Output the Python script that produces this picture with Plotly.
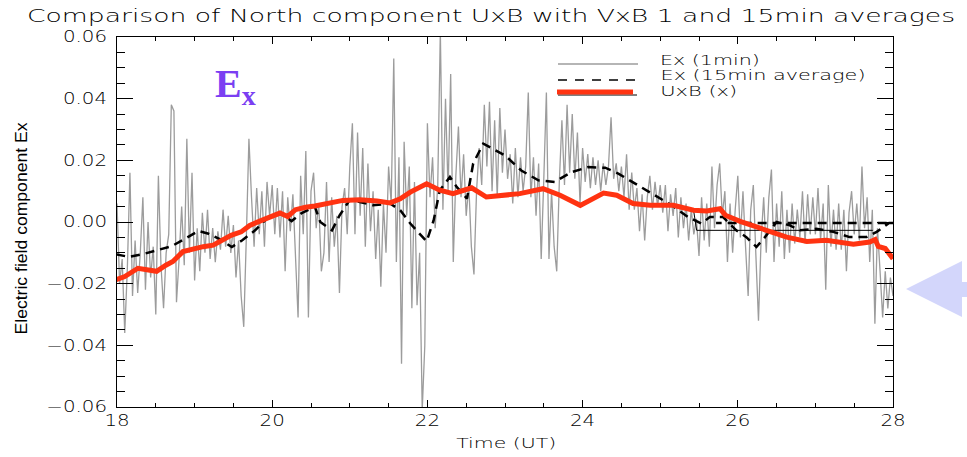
import numpy as np
import plotly.graph_objects as go

# ---- data -------------------------------------------------------------
# 1-minute electric field, sampled every 2 minutes from 18:00 to 28:00 UT
ex_1min_start = 18.0
ex_1min_step_h = 2.0 / 60.0
ex_1min = [
    0.006, -0.020, -0.012, -0.036, -0.015, 0.016, -0.024, -0.006, -0.023, -0.010,
    0.008, -0.022, 0.000, -0.018, -0.008, -0.030, 0.015, -0.014, -0.028, -0.010,
    -0.004, 0.038, 0.036, -0.026, -0.012, 0.005, -0.014, 0.027, -0.010, 0.016,
    -0.019, -0.002, -0.016, 0.003, -0.010, 0.004, -0.012, -0.002, -0.013, -0.003,
    -0.009, 0.004, -0.008, 0.002, -0.010, -0.001, -0.018, -0.006, -0.024, -0.034,
    -0.005, 0.027, 0.008, -0.008, 0.011, -0.004, 0.010, -0.008, 0.013, 0.002,
    0.012, -0.004, 0.011, -0.005, 0.010, -0.016, 0.008, -0.003, 0.009, -0.010,
    -0.031, 0.015, -0.004, 0.023, -0.031, 0.010, 0.016, -0.002, 0.006, -0.016,
    -0.010, 0.013, -0.013, 0.008, -0.008, 0.002, -0.023, 0.005, 0.011, -0.004,
    0.018, 0.032, -0.004, 0.029, 0.002, 0.024, -0.008, 0.019, -0.003, 0.010,
    -0.012, 0.004, -0.021, 0.006, -0.010, 0.018, 0.006, 0.053, -0.013, 0.021,
    -0.046, 0.026, 0.002, 0.018, -0.028, 0.013, -0.027, -0.010, -0.061, -0.040,
    0.032, 0.008, 0.021, -0.002, 0.012, 0.062, 0.004, 0.040, 0.010, 0.048,
    -0.013, 0.015, 0.031, 0.008, 0.022, 0.002, 0.012, -0.008, -0.017, 0.010,
    0.024, 0.012, 0.038, 0.018, 0.039, 0.010, 0.033, 0.008, 0.037, 0.016,
    0.030, 0.014, 0.022, 0.006, 0.024, 0.008, 0.021, 0.010, 0.018, 0.042,
    0.008, 0.021, 0.002, 0.019, -0.012, 0.014, 0.042, -0.012, 0.010, -0.008,
    -0.016, 0.013, 0.033, 0.012, 0.038, 0.016, 0.035, 0.014, 0.029, 0.006,
    0.024, 0.013, 0.022, 0.011, 0.021, 0.012, 0.020, 0.010, 0.019, 0.012,
    0.018, 0.034, 0.014, 0.019, 0.010, 0.018, 0.008, 0.022, 0.004, 0.016,
    0.004, 0.011, -0.003, 0.009, -0.006, 0.008, 0.015, 0.004, 0.013, 0.005,
    0.012, 0.003, 0.012, -0.003, 0.009, 0.002, 0.011, -0.005, 0.008, -0.002,
    0.006, -0.006, 0.004, -0.004, 0.001, -0.011, 0.008, -0.006, 0.006, -0.008,
    0.018, -0.002, 0.012, 0.019, 0.002, 0.010, -0.013, 0.006, -0.010, 0.004,
    0.015, -0.005, 0.010, -0.008, -0.024, 0.004, 0.012, -0.011, -0.032, -0.006,
    0.008, -0.010, 0.008, 0.017, -0.013, 0.006, -0.008, 0.010, -0.012, 0.004,
    -0.010, 0.006, -0.007, 0.004, -0.005, 0.010, -0.007, 0.009, -0.004, 0.008,
    -0.004, 0.011, -0.006, 0.006, -0.022, 0.012, -0.008, 0.004, -0.009, 0.006,
    -0.009, 0.004, -0.016, 0.003, 0.010, -0.004, 0.006, -0.006, 0.018, -0.002,
    0.008, -0.013, 0.004, -0.033, -0.002, -0.016, -0.031, -0.016, -0.028, -0.018,
    -0.024,
]

# 15-minute running average of Ex (the trace returns along 0 at the end)
ex_15min_time = [
    17.99, 18.15, 18.32, 18.49, 18.70, 18.88, 19.05, 19.18, 19.31, 19.48,
    19.61, 19.78, 19.95, 20.12, 20.25, 20.38, 20.55, 20.62, 20.77, 20.87,
    21.00, 21.13, 21.30, 21.52, 21.65, 21.78, 21.99, 22.08, 22.16, 22.29,
    22.38, 22.51, 22.59, 22.72, 22.89, 23.00, 23.21, 23.43, 23.64, 23.86,
    24.07, 24.29, 24.46, 24.72, 24.93, 25.15, 25.36, 25.53, 25.64, 25.81,
    25.98, 26.11, 26.24, 26.35, 26.50, 26.67, 26.80, 27.01, 27.23, 27.44,
    27.66, 27.79, 27.95, 28.00, 25.72,
]
ex_15min = [
    -0.0105, -0.0113, -0.0105, -0.0094, -0.0079, -0.0054, -0.0029, -0.0038, -0.0054, -0.0081,
    -0.0060, -0.0027, 0.0016, 0.0027, 0.0003, 0.0029, 0.0049, 0.0000, -0.0027, 0.0022,
    0.0072, 0.0065, 0.0054, 0.0060, 0.0038, -0.0005, -0.0063, 0.0005, 0.0103, 0.0146,
    0.0113, 0.0076, 0.0190, 0.0254, 0.0232, 0.0216, 0.0167, 0.0135, 0.0130, 0.0162,
    0.0178, 0.0176, 0.0157, 0.0119, 0.0086, 0.0054, 0.0016, -0.0005, 0.0016, 0.0016,
    -0.0027, -0.0049, -0.0081, -0.0049, 0.0000, -0.0011, -0.0027, -0.0022, -0.0032, -0.0049,
    -0.0049, -0.0032, -0.0003, -0.0003, -0.0003,
]

# UxB (x) from the velocity/magnetic field product
uxb_time = [
    17.99, 18.10, 18.27, 18.38, 18.51, 18.63, 18.72, 18.85, 18.98, 19.11,
    19.24, 19.37, 19.47, 19.60, 19.71, 19.84, 19.97, 20.10, 20.20, 20.30,
    20.43, 20.55, 20.91, 21.13, 21.35, 21.52, 21.65, 21.78, 21.99, 22.16,
    22.33, 22.57, 22.76, 22.94, 23.19, 23.49, 23.71, 23.97, 24.10, 24.27,
    24.44, 24.65, 24.87, 25.17, 25.43, 25.60, 25.77, 25.84, 26.03, 26.37,
    26.63, 26.89, 27.14, 27.49, 27.70, 27.77, 27.81, 27.90, 28.00,
]
uxb_x = [
    -0.0187, -0.0177, -0.0150, -0.0155, -0.0160, -0.0140, -0.0128, -0.0096, -0.0086, -0.0080,
    -0.0075, -0.0059, -0.0043, -0.0032, -0.0011, 0.0003, 0.0016, 0.0029, 0.0018, 0.0040,
    0.0048, 0.0052, 0.0070, 0.0072, 0.0068, 0.0062, 0.0075, 0.0097, 0.0124, 0.0103,
    0.0092, 0.0111, 0.0081, 0.0084, 0.0092, 0.0108, 0.0087, 0.0054, 0.0071, 0.0094,
    0.0087, 0.0060, 0.0054, 0.0054, 0.0038, 0.0036, 0.0043, 0.0022, 0.0002, -0.0027,
    -0.0049, -0.0063, -0.0059, -0.0072, -0.0065, -0.0057, -0.0079, -0.0086, -0.0119,
]

# thin black UxB trace drawn beneath the thick one (straight across the data gap)
uxb_line_time = uxb_time[:45] + [25.47, 27.74]
uxb_line_x = uxb_x[:45] + [-0.0027, -0.0027]

x_tick_vals = [18, 20, 22, 24, 26, 28]

# ---- figure -----------------------------------------------------------
ex_1min_time = ex_1min_start + ex_1min_step_h * np.arange(len(ex_1min))

HFONT = "DejaVu Sans"
HWEIGHT = 200
RED = "#ff3311"

fig = go.Figure()
fig.add_trace(go.Scatter(x=ex_1min_time, y=ex_1min, mode="lines",
                         line=dict(color="#9c9c9c", width=1.3), name="Ex (1min)"))
fig.add_trace(go.Scatter(x=uxb_line_time, y=uxb_line_x, mode="lines",
                         line=dict(color="black", width=1), name="UxB (x)"))
fig.add_trace(go.Scatter(x=ex_15min_time, y=ex_15min, mode="lines",
                         line=dict(color="black", width=2.5, dash="9px,6px"),
                         name="Ex (15min average)"))
fig.add_trace(go.Scatter(x=uxb_time, y=uxb_x, mode="lines",
                         line=dict(color=RED, width=5), name="UxB (x)"))


def px_x(x):
    return (x - 117) / 776.0


def px_y(y):
    return (407 - y) / 370.0


shapes = [
    # legend samples
    dict(type="line", xref="paper", yref="paper", x0=px_x(558), x1=px_x(638),
         y0=px_y(64), y1=px_y(64), line=dict(color="#9c9c9c", width=1.3)),
    dict(type="line", xref="paper", yref="paper", x0=px_x(558), x1=px_x(638),
         y0=px_y(80), y1=px_y(80), line=dict(color="black", width=1.5, dash="9px,8px")),
    dict(type="line", xref="paper", yref="paper", x0=px_x(558), x1=px_x(637),
         y0=px_y(95), y1=px_y(95), line=dict(color="black", width=1)),
    dict(type="line", xref="paper", yref="paper", x0=px_x(557), x1=px_x(633),
         y0=px_y(92), y1=px_y(92), line=dict(color=RED, width=5)),
    # pointer arrow at the right edge
    dict(type="path", xref="paper", yref="paper",
         path=("M {:.4f},{:.4f} L {:.4f},{:.4f} L {:.4f},{:.4f} L {:.4f},{:.4f} "
               "L {:.4f},{:.4f} L {:.4f},{:.4f} L {:.4f},{:.4f} Z").format(
             px_x(906), px_y(289), px_x(962), px_y(261), px_x(962), px_y(282),
             px_x(990), px_y(282), px_x(990), px_y(297), px_x(962), px_y(297),
             px_x(962), px_y(317)),
         fillcolor="#d3d6fb", line=dict(width=0)),
]

hfont14 = dict(family=HFONT, size=14, color="black", weight=HWEIGHT)

annotations = [
    dict(text="<b>E<sub>x</sub></b>", xref="paper", yref="paper",
         x=px_x(213), y=px_y(86), xanchor="left", yanchor="middle", showarrow=False,
         font=dict(family="Liberation Serif", size=40, color="#7b3ff2")),
    dict(text="Time (UT)", xref="paper", yref="paper", x=px_x(506), y=px_y(443),
         xanchor="center", yanchor="middle", showarrow=False, font=hfont14),
    dict(text="Ex (1min)", xref="paper", yref="paper", x=px_x(710), y=px_y(60),
         xanchor="center", yanchor="middle", showarrow=False, font=hfont14),
    dict(text="Ex (15min average)", xref="paper", yref="paper", x=px_x(762.5), y=px_y(75),
         xanchor="center", yanchor="middle", showarrow=False, font=hfont14),
    dict(text="UxB (x)", xref="paper", yref="paper", x=px_x(698.5), y=px_y(91),
         xanchor="center", yanchor="middle", showarrow=False, font=hfont14),
    dict(text="Electric field component Ex", xref="paper", yref="paper",
         x=px_x(21), y=px_y(229), xanchor="center", yanchor="middle", textangle=-90,
         showarrow=False, font=dict(family="Liberation Sans", size=16, color="black")),
]

axis_common = dict(showline=True, linecolor="black", linewidth=1, mirror="ticks",
                   ticks="inside", tickcolor="black", tickwidth=1,
                   showgrid=False, zeroline=False,
                   tickfont=dict(family=HFONT, size=15, color="black", weight=HWEIGHT))

fig.update_layout(
    width=967, height=457,
    margin=dict(l=117, r=74, t=37, b=50),
    paper_bgcolor="white", plot_bgcolor="white",
    showlegend=False,
    title=dict(text="Comparison of North component UxB with VxB 1 and 15min averages",
               x=491 / 967, xanchor="center", y=1 - 16 / 457, yanchor="middle",
               font=dict(family=HFONT, size=18, color="black", weight=HWEIGHT)),
    xaxis=dict(range=[18, 28], tickvals=x_tick_vals, ticklen=7,
               minor=dict(dtick=0.5, tick0=18, ticklen=4, ticks="inside", tickcolor="black"),
               **axis_common),
    yaxis=dict(range=[-0.06, 0.06], dtick=0.02, tick0=0, tickformat=".2f", ticklen=16,
               ticklabelstandoff=6,
               minor=dict(dtick=0.005, ticklen=8, ticks="inside", tickcolor="black"),
               **axis_common),
    shapes=shapes,
    annotations=annotations,
)

# Widen the plain sans text so it has the broad, single-stroke proportions
# of the plotting package's vector font.
widen_js = """
var gd = document.getElementById('{plot_id}');
function fitText(el, w) {
  el.removeAttribute('textLength');
  el.removeAttribute('lengthAdjust');
  el.setAttribute('lengthAdjust', 'spacingAndGlyphs');
  el.setAttribute('textLength', w);
}
function widen() {
  var t = gd.querySelector('.gtitle');
  if (t) fitText(t, 928);
  gd.querySelectorAll('.xtick text, .ytick text').forEach(function (el) {
    el.removeAttribute('textLength');
    var w = el.getComputedTextLength();
    fitText(el, w * 1.32);
  });
  var targets = {1: 100, 2: 100, 3: 205, 4: 77, 5: 212};
  Object.keys(targets).forEach(function (k) {
    var el = gd.querySelector('.annotation[data-index="' + k + '"] .annotation-text');
    if (el) fitText(el, targets[k]);
  });
}
widen();
gd.on('plotly_afterplot', widen);
"""

fig.write_html("out.html", post_script=widen_js)
